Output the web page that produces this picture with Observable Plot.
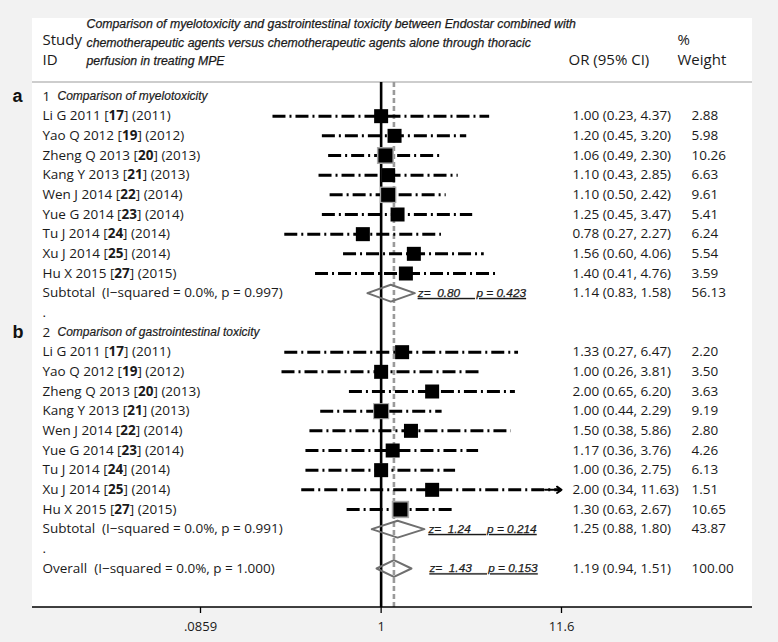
<!DOCTYPE html>
<html><head><meta charset="utf-8">
<script src="https://cdn.jsdelivr.net/npm/d3@7"></script>
<script src="https://cdn.jsdelivr.net/npm/@observablehq/plot@0.6"></script>
<style>
body{margin:0;background:#f2f2f2;}
#chart{width:778px;height:642px;}
</style>
</head><body><div id="chart"></div>
<script>
// ---------- data ----------
const studies = ["Li G 2011 [17] (2011)","Yao Q 2012 [19] (2012)","Zheng Q 2013 [20] (2013)","Kang Y 2013 [21] (2013)","Wen J 2014 [22] (2014)","Yue G 2014 [23] (2014)","Tu J 2014 [24] (2014)","Xu J 2014 [25] (2014)","Hu X 2015 [27] (2015)"];
const groupNums = ["1","2"];
const groupTitles = ["Comparison of myelotoxicity","Comparison of gastrointestinal toxicity"];
const groupLetters = ["a","b"];
const myeloOR = [1.00,1.20,1.06,1.10,1.10,1.25,0.78,1.56,1.40];
const myeloLo = [0.23,0.45,0.49,0.43,0.50,0.45,0.27,0.60,0.41];
const myeloHi = [4.37,3.20,2.30,2.85,2.42,3.47,2.27,4.06,4.76];
const myeloW  = [2.88,5.98,10.26,6.63,9.61,5.41,6.24,5.54,3.59];
const giOR = [1.33,1.00,2.00,1.00,1.50,1.17,1.00,2.00,1.30];
const giLo = [0.27,0.26,0.65,0.44,0.38,0.36,0.36,0.34,0.63];
const giHi = [6.47,3.81,6.20,2.29,5.86,3.76,2.75,11.63,2.67];
const giW  = [2.20,3.50,3.63,9.19,2.80,4.26,6.13,1.51,10.65];
const pooledLabels = ["Subtotal\u00a0 (I\u2212squared = 0.0%, p = 0.997)","Subtotal\u00a0 (I\u2212squared = 0.0%, p = 0.991)","Overall\u00a0 (I\u2212squared = 0.0%, p = 1.000)"];
const pooledOR = [1.14,1.25,1.19];
const pooledLo = [0.83,0.88,0.94];
const pooledHi = [1.58,1.80,1.51];
const pooledW  = [56.13,43.87,100.00];
const pooledZ  = ["0.80","1.24","1.43"];
const pooledP  = ["0.423","0.214","0.153"];
const tickVals = [0.0859,1,11.6];
const tickLabels = [".0859","1","11.6"];
const titleLines = ["Comparison of myelotoxicity and gastrointestinal toxicity between Endostar combined with","chemotherapeutic agents versus chemotherapeutic agents alone through thoracic","perfusion in treating MPE"];

// ---------- layout constants ----------
const xMin = tickVals[0], xMax = tickVals[2];
const zOffsets = [3, 4, 18];
const sans = "'Open Sans', sans-serif";
const arial = "'Liberation Sans', Arial, sans-serif";
const ink = "#1a1a1a";

// ---------- build rows ----------
const studyRows = [];
[[myeloOR,myeloLo,myeloHi,myeloW],[giOR,giLo,giHi,giW]].forEach(([o,l,h,w],g) => {
  studies.forEach((name,k) => studyRows.push({i: g*12+1+k, name, or:o[k], lo:l[k], hi:h[k], w:w[k]}));
});
const pooledIdx = [10,22,24];
const pooledRows = pooledLabels.map((label,j) => ({i: pooledIdx[j], name: label, or: pooledOR[j], lo: pooledLo[j], hi: pooledHi[j], w: pooledW[j], z: pooledZ[j], p: pooledP[j], j}));
const allRows = studyRows.concat(pooledRows);
const groupRows = groupNums.map((n,g) => ({i: g*12, num: n, title: groupTitles[g], letter: groupLetters[g]}));
const dotRows = [{i:11},{i:23}];
const diamondPts = pooledRows.flatMap(d => [
  {k:d.j, x:d.lo, y:d.i},{k:d.j, x:d.or, y:d.i-0.43},{k:d.j, x:d.hi, y:d.i},{k:d.j, x:d.or, y:d.i+0.43},{k:d.j, x:d.lo, y:d.i}
]);
const arrowRows = studyRows.filter(d => d.hi > xMax);
const fmtCI = d => `${d.or.toFixed(2)} (${d.lo.toFixed(2)}, ${d.hi.toFixed(2)})`;
const tickRows = tickVals.map((v,k) => ({v, label: tickLabels[k]}));

const L = -158; // study column relative to frame left
const hdr = (t, dx, dy, o = {}) => Plot.text([t], {frameAnchor:"top-left", lineAnchor:"middle", dx, dy, textAnchor:"start", fontSize:15, fontFamily:sans, fill:ink, ...o});
const marks = [
  Plot.ruleX([1], {stroke:"#000", strokeWidth:2.6}),
  Plot.ruleX([pooledOR[2]], {stroke:"#9a9a9a", strokeWidth:2.6, strokeDasharray:"5,3"}),
  Plot.ruleY(studyRows, {y:"i", x1:"lo", x2: d => Math.min(d.hi, xMax), stroke:"#000", strokeWidth:3, strokeDasharray:"13,4,2,4"}),
  Plot.arrow(arrowRows, {x1: d => xMax*0.8, x2: () => xMax, y1:"i", y2:"i", stroke:"#000", strokeWidth:2, headLength:9, headAngle:70}),
  Plot.dot(studyRows, {x:"or", y:"i", r:"w", symbol:"square", fill:"#a8a8a8"}),
  Plot.dot(studyRows, {x:"or", y:"i", r:7.9, symbol:"square", fill:"#000"}),
  Plot.line(diamondPts, {x:"x", y:"y", z:"k", stroke:"#6f6f6f", strokeWidth:2}),
  ...pooledRows.map((d,j) => Plot.text([d], {x:"hi", y:"i", text: r => `z=\u00a0 ${r.z}\u00a0\u00a0\u00a0\u00a0 p = ${r.p}`, dx: zOffsets[j], textAnchor:"start", fontStyle:"italic", fontSize:11.8, fontFamily:arial, fill:ink, stroke:ink, strokeWidth:0.25, className:"ztext"})),
  // left column
  Plot.text(allRows, {y:"i", text:"name", frameAnchor:"left", dx:L, textAnchor:"start", fontSize:13.5, fontFamily:sans, fill:ink, className:"study"}),
  Plot.text(groupRows, {y:"i", text:"num", frameAnchor:"left", dx:L, textAnchor:"start", fontSize:13.5, fontFamily:sans, fill:ink}),
  Plot.text(groupRows, {y:"i", text:"title", frameAnchor:"left", dx:-143, textAnchor:"start", fontSize:12, fontStyle:"italic", fontFamily:arial, fill:ink, stroke:ink, strokeWidth:0.2}),
  Plot.text(groupRows, {y:"i", text:"letter", frameAnchor:"left", dx:-188, textAnchor:"start", fontSize:18, fontWeight:"bold", fontFamily:arial, fill:"#111"}),
  Plot.text(dotRows, {y:"i", text: () => ".", frameAnchor:"left", dx:L, textAnchor:"start", fontSize:13.5, fontFamily:sans, fill:ink}),
  // right columns
  Plot.text(allRows, {y:"i", text: fmtCI, frameAnchor:"left", dx:372, textAnchor:"start", fontSize:13.5, fontFamily:sans, fill:ink}),
  Plot.text(allRows, {y:"i", text: d => d.w.toFixed(2), frameAnchor:"left", dx:491, textAnchor:"start", fontSize:13.5, fontFamily:sans, fill:ink}),
  // header
  hdr("Study", L, -42),
  hdr("ID", L, -22),
  ...titleLines.map((t,k) => hdr(t, -114, [-58,-39,-21][k], {fontSize:12.3, fontStyle:"italic", fontFamily:arial, stroke:ink, strokeWidth:0.25})),
  hdr("OR (95% CI)", 368, -22),
  hdr("%", 477, -42),
  hdr("Weight", 477, -22),
  // x axis: ticks and labels
  Plot.axisX({ticks: tickVals, tickFormat: () => "", tickSize:6, stroke:"#000", strokeWidth:1.3, label:null}),
  Plot.text(tickRows, {x:"v", text:"label", frameAnchor:"bottom", lineAnchor:"middle", dy:19, fontSize:13, fontFamily:sans, fill:ink})
];

const chart = Plot.plot({
  width: 778, height: 642,
  marginLeft: 200, marginRight: 217, marginTop: 82, marginBottom: 35,
  x: {type:"log", domain:[xMin, xMax]},
  y: {domain:[0,24], range:[96,568], axis:null},
  r: {type:"sqrt", domain:[0,10.26], range:[0,9.6]},
  style: {background:"transparent", overflow:"visible", fontFamily: sans},
  marks
});

// background panel and rules
const svg = d3.select(chart);
const bg = svg.insert("g", ":first-child");
bg.append("rect").attr("x",32).attr("y",18).attr("width",720).attr("height",589).attr("fill","#fff");
bg.append("line").attr("x1",32).attr("x2",752).attr("y1",82).attr("y2",82).attr("stroke","#bdbdbd").attr("stroke-width",1.5);
svg.append("line").attr("x1",32).attr("x2",752).attr("y1",607).attr("y2",607).attr("stroke","#000").attr("stroke-width",1.3);

// bold reference numbers
svg.selectAll("g.study text").each(function() {
  const s = this.textContent;
  const m = s.match(/^(.*\[)(\d+)(\].*)$/);
  if (!m) return;
  const t = d3.select(this); t.text("");
  t.append("tspan").text(m[1]);
  t.append("tspan").attr("font-weight","bold").text(m[2]);
  t.append("tspan").text(m[3]);
});
svg.selectAll("g.ztext text").attr("text-decoration","underline");

document.getElementById("chart").appendChild(chart);
</script>
</body></html>
